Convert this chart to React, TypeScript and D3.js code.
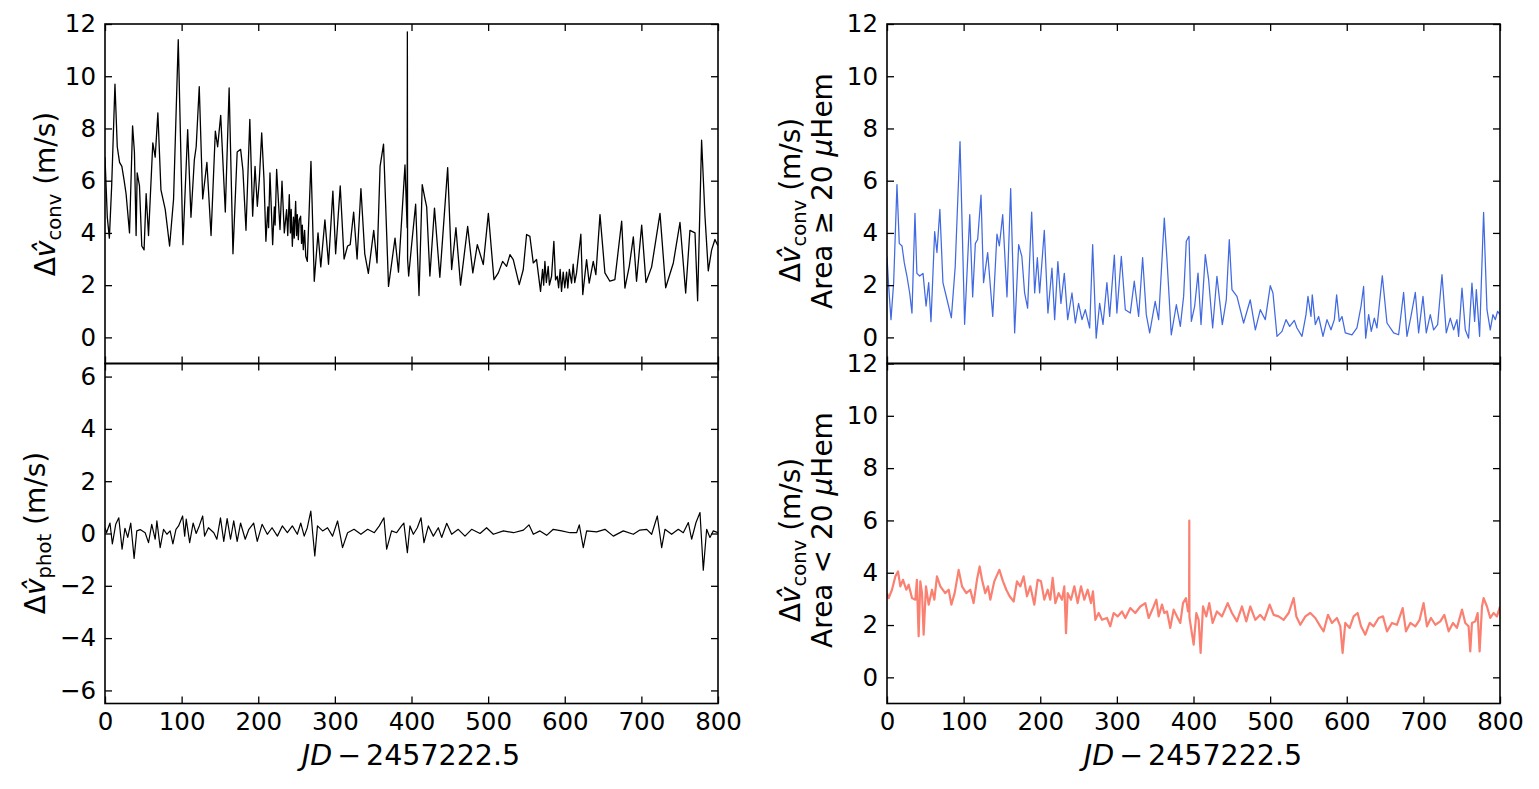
import React, { useEffect, useRef } from "react";
import * as d3 from "d3";

// x ticks shared by all panels
const xTicks = [0, 100, 200, 300, 400, 500, 600, 700, 800];
const convTicks = [0, 2, 4, 6, 8, 10, 12];
const photTicks = [-6, -4, -2, 0, 2, 4, 6];

// top-left: convective RV (m/s)
const convT = [0, 3, 5.7, 8.7, 13, 16, 19, 22, 25, 27.5, 32, 36, 38.4, 40.6, 42, 45, 48, 51, 53.7, 56.8, 62.4, 65.5, 69, 73, 78.6, 84.3, 89.5, 95.6, 101.7, 107.9, 112.2, 116.6, 119, 123, 127.5, 133, 138.4, 144, 147, 151, 157, 162, 167, 172.5, 177, 180, 184, 189, 192.7, 195.8, 198.8, 201.4, 204.5, 207.5, 210, 212.5, 213.5, 215.3, 218.8, 221, 222, 224, 228.4, 231, 234, 237, 238.5, 240.5, 242, 243, 244.5, 246, 247, 248.8, 250, 251, 252.3, 253.5, 255.3, 256.5, 257.5, 258.8, 260.5, 262, 264, 268.8, 273.1, 278, 281.6, 287, 291.7, 297.4, 301, 307, 312, 316.6, 320, 324.5, 329, 334, 339, 343.7, 350.7, 355, 359, 363.5, 370, 378.5, 383, 391.5, 394.3, 394.6, 394.9, 396.3, 400, 405.4, 409.8, 414, 417.6, 419.8, 424, 430, 437, 447.2, 452.4, 458, 464, 473.3, 480, 485.9, 493.7, 500.3, 507.6, 513.3, 518.9, 524.1, 528.5, 532.8, 540.6, 545.8, 550.2, 554.5, 558.9, 563.2, 568.4, 571, 572.5, 574.1, 576, 578.4, 580, 582.8, 585.8, 588, 590.2, 592, 594, 595.8, 598, 600, 602.4, 604, 606, 608.9, 611, 613, 615.4, 617, 621, 623.5, 628.5, 631.9, 637.2, 640.6, 646, 652.4, 658.9, 665.4, 674.3, 678.5, 684.2, 689.5, 693.7, 700.4, 706, 713.4, 724.3, 731.7, 741.7, 750.4, 757.8, 763.4, 770, 773.4, 778.6, 783, 787.3, 791.7, 796, 800];
const convV = [6.9, 4.6, 3.8, 5.8, 9.7, 7.3, 6.7, 6.55, 6.0, 5.5, 4.0, 8.1, 7.1, 3.9, 6.3, 5.8, 3.5, 3.35, 5.5, 3.9, 7.45, 6.9, 8.6, 5.65, 4.9, 3.5, 5.3, 11.4, 3.55, 7.95, 4.6, 6.8, 7.3, 9.6, 5.3, 6.7, 3.9, 7.9, 7.3, 8.5, 4.8, 9.55, 3.2, 7.1, 7.2, 6.4, 4.1, 8.35, 4.64, 6.55, 5.02, 6.04, 7.83, 6.04, 3.68, 5.0, 4.2, 6.3, 3.55, 5.0, 4.3, 6.43, 4.13, 5.98, 4.0, 4.89, 3.9, 5.47, 4.0, 4.9, 3.49, 4.6, 3.8, 5.21, 3.9, 4.7, 3.74, 4.5, 4.64, 3.6, 4.3, 3.36, 4.1, 3.1, 2.91, 6.74, 2.15, 4.0, 2.7, 4.5, 2.8, 5.6, 3.2, 5.8, 3.0, 3.5, 3.55, 4.8, 3.0, 5.7, 3.2, 2.45, 4.1, 2.85, 6.55, 7.4, 1.95, 3.8, 2.5, 6.6, 4.2, 11.7, 3.0, 2.35, 3.5, 5.1, 1.6, 5.85, 5.3, 5.0, 2.35, 4.95, 2.3, 6.5, 2.6, 4.2, 2.0, 4.25, 2.47, 3.55, 2.79, 4.75, 2.21, 2.47, 2.91, 2.72, 3.17, 2.98, 2.02, 2.59, 3.94, 3.87, 2.85, 2.98, 1.76, 2.6, 2.0, 2.91, 2.1, 2.72, 2.0, 2.34, 3.68, 2.2, 2.34, 1.9, 2.6, 1.76, 2.5, 1.9, 2.5, 1.89, 2.6, 2.08, 2.8, 2.1, 2.47, 2.9, 3.95, 1.64, 2.98, 2.08, 2.91, 2.4, 4.7, 2.47, 2.15, 2.21, 4.45, 1.89, 2.72, 3.85, 2.15, 4.3, 2.1, 2.7, 4.75, 1.9, 2.85, 4.4, 1.7, 4.1, 4.0, 1.4, 7.55, 4.65, 2.55, 3.35, 3.75, 3.5];

// bottom-left: photometric RV (m/s)
const photT = [0, 2, 6.5, 9.6, 14, 18, 22.3, 26, 29.7, 33.6, 38, 41.5, 45.9, 52.4, 56.8, 61, 65.5, 67.7, 72, 76.4, 80.8, 85, 88.6, 92.6, 96, 101.3, 104, 106, 110.5, 115, 119, 123, 127.5, 130, 135, 142, 146, 150.7, 155, 159.4, 163.8, 168, 172.5, 176.9, 183, 187.8, 194, 198.7, 205, 211.8, 218, 225, 231.4, 238, 244.5, 251, 255.5, 260, 264, 268.6, 271, 273.8, 277.3, 284, 290.4, 297, 303.5, 310, 316.6, 325, 334, 342.8, 351.5, 358, 364, 367.6, 374, 380.6, 387, 390, 394.6, 398, 402.4, 407.6, 412.4, 416.3, 422, 428.5, 435, 439.4, 446, 452.4, 461, 469.8, 478.5, 489.4, 498, 506.8, 520, 533, 546, 553.3, 559, 567.7, 576.4, 585, 596, 606.8, 615.5, 619, 624.2, 628.6, 641.6, 652.5, 663.4, 676.4, 689.5, 698, 707, 713.4, 720.8, 726.5, 730.8, 739.5, 748.2, 754.7, 761.3, 765.6, 771.3, 776.5, 780.8, 785.2, 789.5, 793.9, 800];
const photV = [0.22, 0.03, 0.4, -0.4, 0.35, 0.6, -0.6, 0.2, -0.15, 0.4, -0.95, 0.1, 0.15, 0.03, -0.35, 0.35, -0.22, 0.48, -0.54, 0.16, -0.03, 0.1, -0.4, 0.16, 0.29, 0.67, -0.1, 0.55, -0.35, 0.4, 0, 0.29, 0.67, -0.1, 0.22, 0.03, -0.22, 0.6, -0.3, 0.57, -0.22, 0.48, -0.3, 0.4, -0.22, 0.16, 0.4, -0.3, 0.35, -0.03, 0.22, -0.1, 0.29, 0.03, 0.29, -0.03, 0.4, -0.1, 0.22, 0.86, 0.03, -0.86, 0.29, 0.1, 0.22, -0.1, 0.48, -0.54, 0.03, 0.16, -0.03, 0.16, 0.03, 0.29, 0.6, -0.6, 0.1, 0.03, 0.29, 0.4, -0.73, 0.29, -0.03, 0.22, 0.6, -0.35, 0.29, -0.1, 0.22, -0.15, 0.39, -0.03, 0.16, -0.1, 0.16, 0, 0.22, -0.03, 0.1, 0.03, 0.13, 0.33, -0.03, 0.1, -0.07, 0.16, 0.1, 0.03, 0.03, 0.33, -0.54, 0.1, 0.06, 0.16, -0.1, 0.1, -0.03, 0.13, 0.16, -0.03, 0.67, -0.54, 0.16, -0.03, 0.16, 0.03, 0.42, -0.22, 0.42, 0.8, -1.4, 0.16, -0.15, 0.1, 0.03];

// top-right: convective RV, Area >= 20 uHem
const largeT = [0, 2.2, 5.2, 8.7, 13, 16, 19.6, 22.6, 26, 29.6, 32.6, 36.5, 39, 42.6, 47, 51, 54.4, 57.4, 62.2, 65.2, 69, 73, 78.3, 84, 89, 95.3, 101.3, 108, 111.8, 115.3, 118.3, 122.7, 126, 131.4, 138, 143.5, 146.6, 151, 156.6, 161.4, 166.6, 171.8, 176, 179.6, 183.5, 188.8, 192.7, 196.2, 199.2, 205.3, 210, 215.3, 218.8, 223, 227, 231.4, 235.8, 241.4, 245.8, 250, 254.5, 258.8, 264.5, 268.4, 273, 277.5, 281.9, 287, 290.6, 296.7, 300, 305.8, 311, 317.5, 322.7, 328.4, 333.6, 338.4, 342.8, 350, 354.5, 361.9, 365.4, 371, 377.6, 382.8, 387.1, 390.6, 394.1, 397.2, 401.5, 405.9, 409.8, 415.4, 419.8, 425, 430.6, 437.6, 442.8, 446.7, 450.2, 456.7, 465.4, 474.1, 480.7, 487.2, 493.7, 500.2, 503.7, 509, 515.5, 520.7, 525.5, 531.6, 535, 541.6, 546.8, 549.4, 553.3, 555, 559, 563.3, 569, 574.2, 579.4, 583.8, 586.8, 590.3, 593.8, 598.1, 606.8, 613.3, 618.6, 622, 624.7, 628.6, 632, 636, 639.4, 646.4, 652.5, 661.2, 667.7, 674.2, 678.6, 683.8, 689.5, 693.8, 699.5, 703.8, 709, 713.4, 718.6, 724.3, 729.9, 735.1, 739.5, 743.8, 746, 750.4, 754.7, 759, 763.4, 766.9, 769.1, 773.4, 778.6, 783, 787.3, 790.8, 793.9, 796.9, 800];
const largeV = [3.1, 1.95, 0.68, 2.1, 5.85, 3.6, 3.5, 2.85, 2.35, 1.7, 0.93, 4.75, 2.45, 2.35, 2.45, 1.2, 2.1, 0.6, 4.05, 3.25, 4.9, 2.1, 1.45, 0.75, 2.7, 7.5, 0.5, 4.7, 1.55, 3.6, 3.75, 5.45, 2.1, 3.25, 0.8, 3.95, 3.5, 4.7, 1.55, 5.7, 0.17, 3.55, 3.1, 1.7, 1.12, 4.8, 1.7, 3.05, 1.7, 4.1, 0.93, 2.65, 0.68, 2.9, 1.3, 2.45, 0.68, 1.7, 0.55, 1.3, 0.68, 1.06, 0.36, 3.55, -0.03, 1.3, 0.5, 2.1, 0.8, 3.15, 0.93, 3.1, 1.06, 0.93, 2.15, 0.8, 3.05, 0.87, 0.17, 1.38, 0.68, 4.57, 2.98, 0.1, 1.25, 0.42, 1.57, 3.68, 3.87, 0.61, 1.19, 2.46, 0.49, 3.17, 2.2, 0.36, 2.34, 0.49, 1.44, 3.74, 1.83, 1.57, 0.55, 1.44, 0.29, 1.06, 0.68, 1.98, 1.7, 0.04, 0.23, 0.68, 0.42, 0.65, 0.36, 0.04, 0.87, 1.57, 0.8, 1.63, 0.49, 0.8, 0.04, 0.68, 0.29, 0.68, 1.63, 0.61, 0.8, 0.17, 0.1, 0.36, 1.19, 1.95, -0.03, 0.87, 0.23, 0.74, 0.36, 2.36, 0.55, 0.17, 0.1, 1.72, 0.04, 0.8, 1.72, 0.17, 1.57, 0.17, 0.87, 0.29, 0.49, 2.4, 0.17, 0.74, 0.29, 0.68, 0.04, 1.89, 0.29, -0.03, 2.08, 0.61, 1.83, 0.04, 4.79, 1.06, 0.29, 0.87, 0.68, 1.0, 0.87];

// bottom-right: convective RV, Area < 20 uHem
const smallT = [0, 2.2, 6.5, 10.9, 14.4, 17.4, 20.9, 25.2, 28.3, 32.6, 37, 39, 41.3, 43.5, 45.7, 47.8, 50.9, 54.4, 58.7, 61.8, 65.2, 69.6, 76, 80.5, 84, 88.3, 93.5, 97.9, 103.5, 108.7, 113, 117.4, 120.9, 124, 128.3, 131.8, 134.8, 140, 146.6, 151.4, 155.7, 160, 165.3, 169.6, 174, 178.3, 182.7, 187, 192.3, 196.6, 201, 205.3, 209.7, 213.1, 216.2, 219.7, 224, 228.4, 231.4, 233.6, 235.8, 240.1, 244.5, 248.8, 253.2, 257.5, 261.9, 266.2, 268.8, 271.9, 276.2, 280.6, 287.1, 291.4, 295.8, 301, 306.7, 311, 317.5, 324, 330.6, 337.1, 341.5, 348, 351.5, 354.5, 358.9, 361.9, 365.4, 369.7, 374.1, 378.4, 382.8, 386.3, 390.2, 392.8, 394.3, 394.5, 394.7, 395.8, 400.2, 403.7, 406.7, 409.3, 412.4, 416.7, 420.6, 425, 430.6, 437.2, 444.6, 450.2, 456.7, 463.3, 468.9, 474.1, 480.7, 487.2, 492.4, 499.4, 504.6, 511.1, 517.6, 524.2, 530.7, 534.2, 539.4, 546, 552.4, 559, 565.5, 569.8, 575.5, 580.7, 587.2, 591.6, 594.6, 598.1, 603.8, 609, 614.2, 618.6, 624.2, 629.9, 635, 641.6, 647.3, 652.5, 659, 665.5, 673, 677.3, 683, 689.5, 695.1, 700.3, 704.7, 709.9, 715.6, 722.1, 727.3, 733, 738.6, 743.8, 750.4, 754.7, 759, 761.2, 763.4, 767.7, 770.8, 773.4, 776.5, 778.6, 783, 787.3, 791.6, 796, 800];
const smallV = [3.22, 3.03, 3.35, 3.86, 4.05, 3.48, 3.73, 3.35, 3.54, 3.03, 2.97, 3.73, 1.57, 3.67, 3.22, 1.63, 3.48, 2.78, 3.35, 2.97, 3.86, 3.48, 3.22, 3.35, 2.78, 3.22, 4.11, 3.48, 3.22, 3.35, 2.84, 3.73, 4.24, 3.73, 3.22, 3.48, 2.97, 3.67, 4.11, 3.67, 3.35, 3.1, 2.9, 3.67, 3.48, 3.86, 3.1, 3.48, 2.78, 3.73, 3.67, 2.97, 3.35, 2.97, 3.8, 2.84, 3.22, 2.97, 3.48, 1.69, 3.22, 2.97, 3.48, 2.84, 3.48, 2.97, 3.35, 2.84, 3.29, 2.2, 2.46, 2.2, 2.27, 1.95, 2.46, 2.33, 2.52, 2.27, 2.65, 2.46, 2.71, 2.84, 2.27, 2.71, 2.97, 2.33, 2.78, 2.46, 2.52, 1.89, 2.59, 2.33, 2.08, 2.84, 3.03, 2.52, 2.7, 5.99, 2.3, 2.08, 1.25, 2.46, 2.2, 0.93, 2.71, 2.33, 2.84, 2.08, 2.52, 2.33, 2.84, 2.46, 2.14, 2.71, 2.14, 2.71, 2.2, 2.39, 2.2, 2.78, 2.39, 2.33, 2.2, 2.46, 3.03, 2.33, 2.01, 2.33, 2.46, 2.27, 1.95, 1.76, 2.39, 2.08, 2.27, 1.95, 0.93, 2.08, 1.89, 2.33, 2.46, 1.95, 1.63, 2.08, 1.95, 2.27, 2.33, 1.76, 2.08, 2.01, 2.65, 1.76, 2.08, 1.95, 2.2, 2.84, 1.95, 2.27, 2.01, 2.14, 2.39, 1.76, 2.08, 1.89, 2.59, 2.08, 1.95, 0.99, 2.08, 2.14, 2.46, 0.99, 2.71, 3.03, 2.71, 2.27, 2.46, 2.33, 2.71];

const FONT = "DejaVu Sans";

const App = () => {
  const svgRef = useRef<SVGSVGElement>(null);

  useEffect(() => {
    const svg = d3.select(svgRef.current);
    svg.selectAll("*").remove();

    const left = [105, 718];
    const right = [887, 1500];
    const top = [24, 363.5];
    const bottom = [363.5, 703.5];

    // salmon curve is a dense noisy band in the original, hence the wider stroke
    const panels = [
      { xr: left, yr: top, yd: [-1, 12], yt: convTicks, t: convT, v: convV, color: "#000000", w: 1.3, xlab: false },
      { xr: left, yr: bottom, yd: [-6.5, 6.5], yt: photTicks, t: photT, v: photV, color: "#000000", w: 1.2, xlab: true },
      { xr: right, yr: top, yd: [-1, 12], yt: convTicks, t: largeT, v: largeV, color: "#4169e1", w: 1.25, xlab: false },
      { xr: right, yr: bottom, yd: [-1, 12], yt: convTicks, t: smallT, v: smallV, color: "#fa8072", w: 2.2, xlab: true },
    ];

    panels.forEach((p, i) => {
      const x = d3.scaleLinear().domain([0, 800]).range(p.xr);
      const y = d3.scaleLinear().domain(p.yd).range([p.yr[1], p.yr[0]]);
      const g = svg.append("g");

      g.append("clipPath")
        .attr("id", `clip${i}`)
        .append("rect")
        .attr("x", p.xr[0])
        .attr("y", p.yr[0])
        .attr("width", p.xr[1] - p.xr[0])
        .attr("height", p.yr[1] - p.yr[0]);

      const line = d3
        .line<[number, number]>()
        .x((d) => x(d[0]))
        .y((d) => y(d[1]));

      g.append("path")
        .datum(d3.zip(p.t, p.v) as [number, number][])
        .attr("clip-path", `url(#clip${i})`)
        .attr("fill", "none")
        .attr("stroke", p.color)
        .attr("stroke-width", p.w)
        .attr("stroke-linejoin", "round")
        .attr("d", line);

      // inward ticks on all four sides
      const axes = [
        { ax: d3.axisBottom(x).tickValues(xTicks).tickPadding(9).tickFormat(p.xlab ? d3.format("d") : () => ""), tr: `translate(0,${p.yr[1]})` },
        { ax: d3.axisTop(x).tickValues(xTicks).tickFormat(() => ""), tr: `translate(0,${p.yr[0]})` },
        { ax: d3.axisLeft(y).tickValues(p.yt).tickPadding(9).tickFormat(d3.format("d")), tr: `translate(${p.xr[0]},0)` },
        { ax: d3.axisRight(y).tickValues(p.yt).tickFormat(() => ""), tr: `translate(${p.xr[1]},0)` },
      ];
      axes.forEach(({ ax, tr }) => {
        const a = g
          .append("g")
          .attr("transform", tr)
          .call(ax.tickSize(-7).tickSizeOuter(0) as any);
        a.select(".domain").remove();
        a.selectAll("line").attr("stroke", "#000").attr("stroke-width", 1.3);
        a.selectAll("text")
          .attr("fill", "#000")
          .attr("font-family", FONT)
          .attr("font-size", 24.5);
      });

      g.append("rect")
        .attr("x", p.xr[0])
        .attr("y", p.yr[0])
        .attr("width", p.xr[1] - p.xr[0])
        .attr("height", p.yr[1] - p.yr[0])
        .attr("fill", "none")
        .attr("stroke", "#000")
        .attr("stroke-width", 1.6);
    });

    // y-axis label with hat-v and subscript
    const vLabel = (bx: number, cy: number, sub: string) => {
      const t = svg
        .append("text")
        .attr("transform", `translate(${bx},${cy}) rotate(-90)`)
        .attr("text-anchor", "middle")
        .attr("font-family", FONT)
        .attr("font-size", 28)
        .attr("fill", "#000");
      t.append("tspan").text("Δ");
      t.append("tspan").attr("font-style", "italic").text("v\u0302");
      t.append("tspan").attr("font-size", 19.6).attr("dy", 6).text(sub);
      t.append("tspan").attr("dy", -6).text("\u00a0(m/s)");
    };
    const areaLabel = (bx: number, cy: number, rel: string) => {
      const t = svg
        .append("text")
        .attr("transform", `translate(${bx},${cy}) rotate(-90)`)
        .attr("text-anchor", "middle")
        .attr("font-family", FONT)
        .attr("font-size", 28)
        .attr("fill", "#000");
      t.append("tspan").text("Area");
      t.append("tspan").attr("dx", 10).text(rel);
      t.append("tspan").attr("dx", 10).text("20\u00a0");
      t.append("tspan").attr("font-style", "italic").text("μ");
      t.append("tspan").text("Hem");
    };
    const jdLabel = (cx: number) => {
      const t = svg
        .append("text")
        .attr("x", cx)
        .attr("y", 765)
        .attr("text-anchor", "middle")
        .attr("font-family", FONT)
        .attr("font-size", 28.5)
        .attr("fill", "#000");
      t.append("tspan").attr("font-style", "italic").text("JD");
      t.append("tspan").attr("dx", 5).text("−");
      t.append("tspan").attr("dx", 5).text("2457222.5");
    };

    vLabel(55, 194, "conv");
    vLabel(45, 533, "phot");
    vLabel(800, 200, "conv");
    areaLabel(832, 191, "≥");
    vLabel(800, 540, "conv");
    areaLabel(832, 530, "<");
    jdLabel(411);
    jdLabel(1193);
  }, []);

  return (
    <svg
      ref={svgRef}
      width={1539}
      height={789}
      style={{ position: "absolute", left: 0, top: 0, background: "#fff" }}
    ></svg>
  );
};

export default App;
